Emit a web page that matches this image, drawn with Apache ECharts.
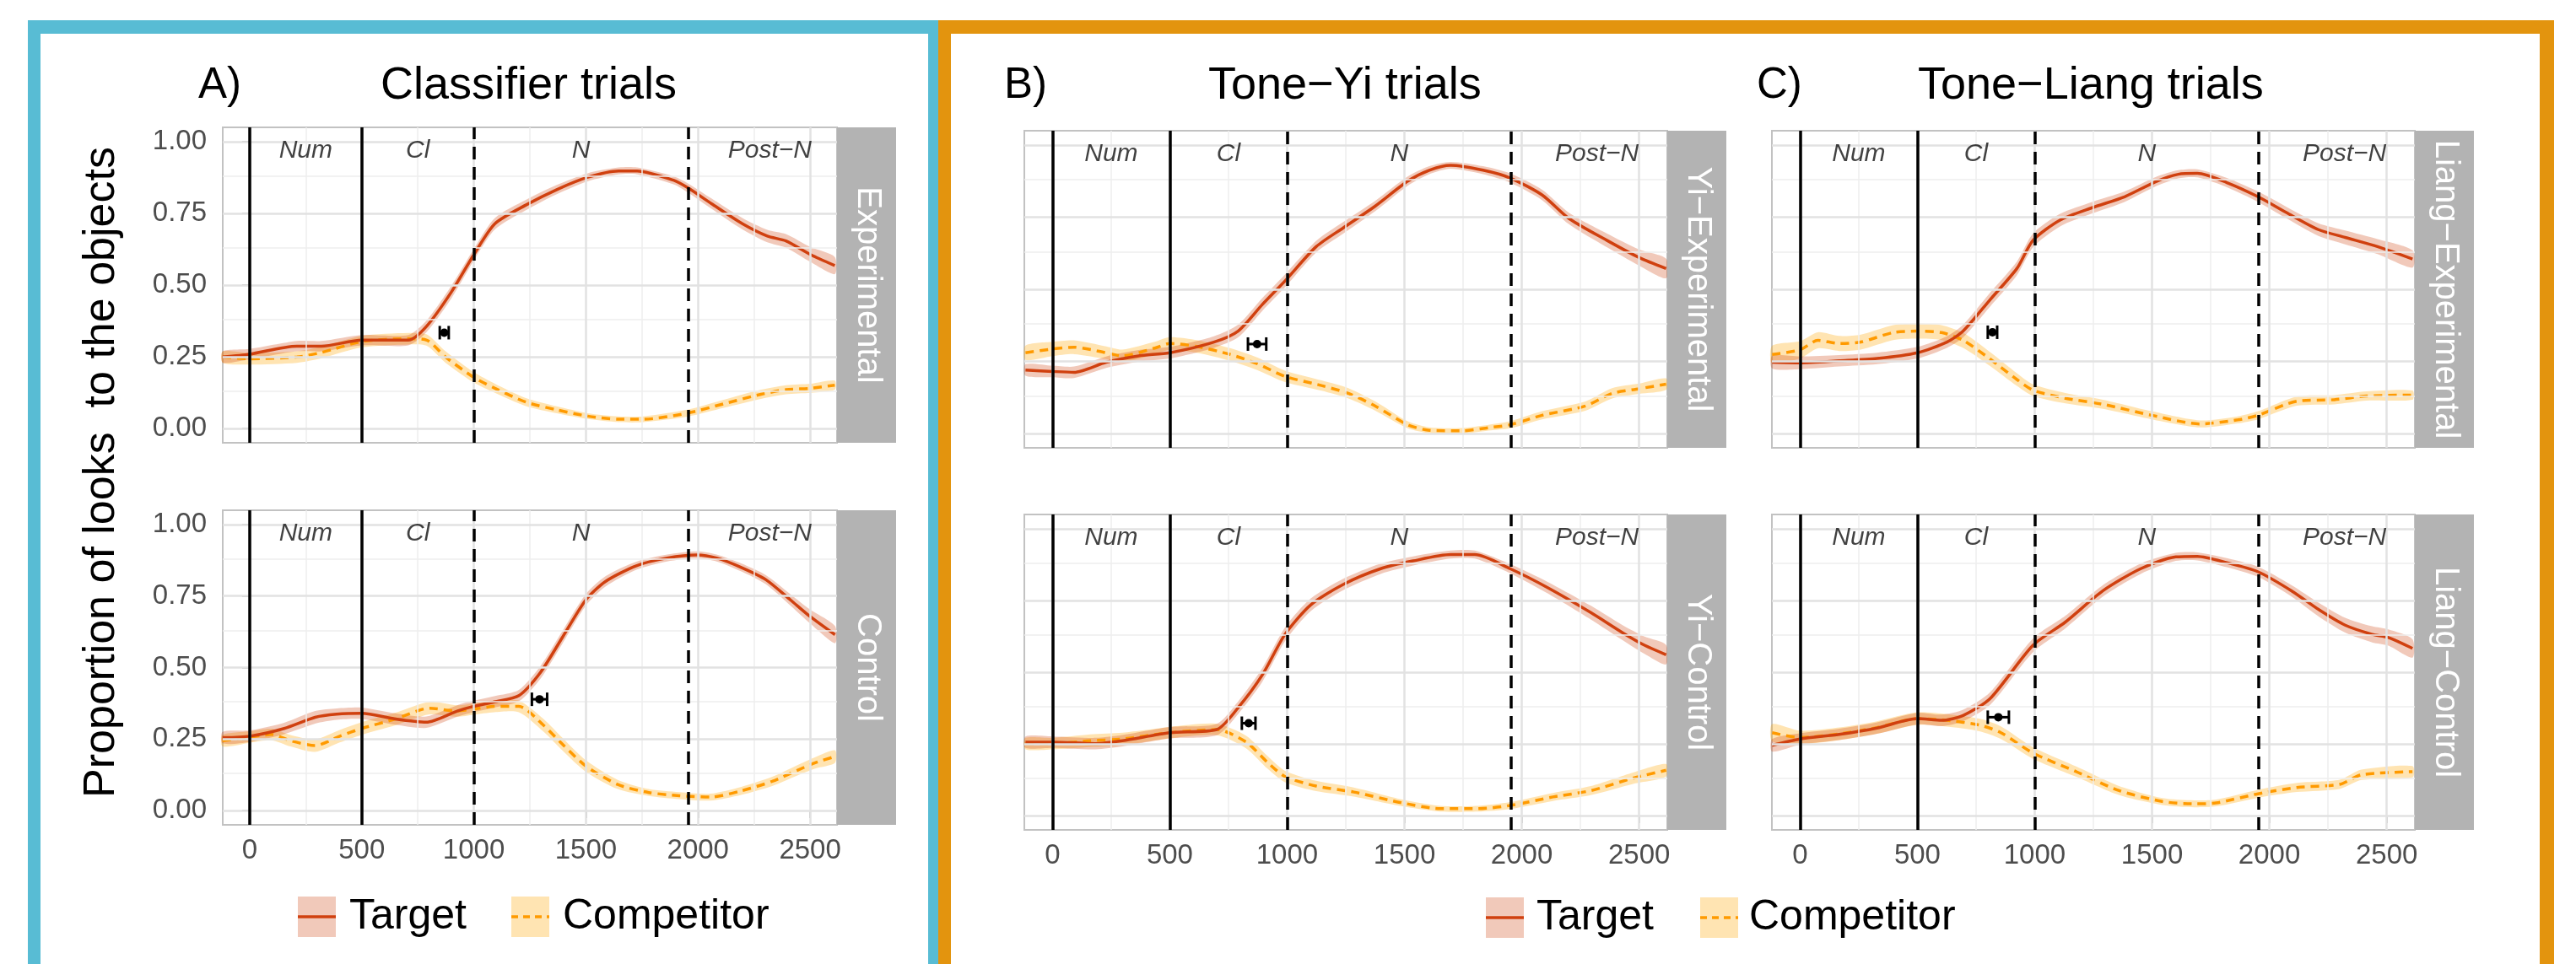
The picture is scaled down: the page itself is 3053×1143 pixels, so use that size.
<!DOCTYPE html>
<html>
<head>
<meta charset="utf-8">
<script src="https://cdn.jsdelivr.net/npm/echarts@6/dist/echarts.min.js"></script>
<style>
html, body { margin: 0; padding: 0; background: #fff; }
#chart { width: 3053px; height: 1143px; }
</style>
</head>
<body>
<div id="chart"></div>
<script>
// axis breaks and region markers
const xTicks = [0, 500, 1000, 1500, 2000, 2500];
const xMinor = [250, 750, 1250, 1750, 2250];
const yTicks = [0, 0.25, 0.5, 0.75, 1];
const yMinor = [0.125, 0.375, 0.625, 0.875];
const solidLines = [0, 500];
const dashedLines = [1000, 1955];
const regionNames = ['Num', 'Cl', 'N', 'Post\u2212N'];
const regionX = [250, 750, 1478, 2320];
const regionY = 0.968;
const stripNames = ['Experimental', 'Control', 'Yi\u2212Experimental', 'Yi\u2212Control', 'Liang\u2212Experimental', 'Liang\u2212Control'];
const seriesNames = ['Target', 'Competitor'];

// [time, proportion, se]
const targetA1 = [[-120,.249,.02],[0,.259,.018],[210,.287,.018],[320,.287,.018],[500,.308,.018],[708,.308,.018],[790,.357,.02],[900,.476,.022],[1000,.606,.02],[1094,.714,.02],[1232,.779,.018],[1370,.833,.016],[1508,.876,.014],[1646,.898,.012],[1728,.898,.012],[1893,.865,.014],[1957,.838,.016],[2060,.784,.018],[2198,.714,.02],[2309,.671,.022],[2392,.654,.024],[2503,.606,.026],[2610,.568,.03]];
const compA1 = [[-120,.249,.02],[0,.243,.02],[211,.249,.02],[321,.265,.02],[500,.303,.02],[708,.313,.02],[790,.308,.02],[874,.249,.02],[1000,.178,.018],[1094,.140,.016],[1232,.092,.014],[1370,.065,.012],[1508,.043,.01],[1646,.032,.01],[1756,.032,.01],[1957,.054,.012],[2115,.086,.014],[2281,.119,.016],[2392,.135,.016],[2503,.140,.016],[2610,.151,.016]];
const targetA2 = [[-121,.255,.02],[0,.26,.02],[154,.287,.02],[292,.326,.022],[388,.337,.02],[500,.34,.02],[650,.32,.02],[788,.309,.02],[926,.348,.02],[997,.364,.02],[1091,.38,.02],[1201,.402,.02],[1298,.484,.022],[1394,.604,.022],[1499,.736,.02],[1587,.801,.018],[1725,.856,.014],[1862,.883,.012],[1995,.894,.012],[2083,.883,.012],[2193,.85,.014],[2303,.807,.016],[2413,.736,.02],[2496,.681,.024],[2611,.615,.03]];
const compA2 = [[-121,.244,.02],[0,.257,.02],[99,.266,.02],[182,.244,.02],[292,.227,.022],[402,.26,.022],[500,.287,.022],[650,.32,.022],[802,.358,.022],[926,.348,.02],[997,.355,.02],[1091,.364,.02],[1201,.364,.02],[1311,.298,.022],[1394,.233,.022],[1499,.156,.02],[1642,.091,.016],[1780,.063,.012],[1917,.052,.012],[2055,.047,.012],[2193,.069,.014],[2331,.102,.016],[2441,.14,.018],[2523,.167,.02],[2611,.189,.022]];
const targetB1 = [[-115,.22,.02],[0,.215,.02],[92,.212,.02],[229,.247,.02],[367,.269,.02],[500,.28,.02],[688,.317,.02],[791,.355,.022],[894,.447,.022],[991,.529,.022],[1124,.648,.02],[1239,.713,.02],[1376,.789,.018],[1514,.875,.016],[1606,.913,.014],[1697,.93,.012],[1835,.913,.014],[1950,.886,.016],[2087,.827,.018],[2202,.745,.02],[2362,.67,.024],[2500,.61,.028],[2615,.572,.034]];
const compB1 = [[-115,.28,.025],[0,.293,.025],[92,.299,.024],[229,.28,.022],[298,.269,.022],[436,.296,.022],[500,.312,.022],[619,.301,.022],[757,.274,.022],[872,.242,.022],[991,.198,.02],[1147,.166,.018],[1261,.139,.018],[1376,.095,.016],[1514,.03,.012],[1606,.011,.01],[1743,.009,.01],[1858,.02,.01],[1950,.03,.012],[2087,.063,.014],[2271,.095,.016],[2385,.139,.018],[2500,.155,.018],[2615,.171,.02]];
const targetB2 = [[-115,.256,.02],[0,.256,.02],[183,.251,.02],[298,.261,.02],[500,.289,.02],[700,.3,.02],[791,.376,.022],[894,.49,.024],[991,.632,.024],[1101,.735,.022],[1239,.806,.02],[1399,.861,.018],[1537,.888,.016],[1697,.91,.014],[1800,.91,.014],[1950,.861,.016],[2110,.795,.02],[2294,.708,.024],[2431,.637,.026],[2523,.594,.03],[2615,.561,.034]];
const compB2 = [[-115,.251,.02],[0,.251,.02],[161,.261,.022],[298,.267,.022],[500,.289,.02],[700,.3,.02],[826,.256,.022],[917,.185,.022],[991,.136,.02],[1124,.103,.018],[1284,.082,.016],[1491,.044,.012],[1651,.024,.01],[1812,.024,.01],[1950,.035,.012],[2133,.065,.014],[2294,.087,.016],[2477,.131,.02],[2615,.158,.022]];
const targetC1 = [[-119,.247,.022],[0,.245,.022],[167,.252,.02],[328,.26,.02],[500,.28,.02],[626,.317,.02],[695,.355,.022],[810,.464,.024],[924,.572,.024],[993,.67,.024],[1108,.74,.022],[1245,.783,.02],[1383,.821,.018],[1521,.875,.016],[1612,.899,.014],[1693,.902,.014],[1819,.87,.016],[1952,.821,.018],[2071,.767,.02],[2209,.707,.022],[2323,.68,.024],[2461,.648,.026],[2610,.605,.03]];
const compC1 = [[-119,.274,.03],[0,.29,.03],[76,.323,.028],[167,.312,.026],[259,.317,.026],[397,.35,.026],[500,.355,.026],[603,.35,.026],[695,.323,.026],[810,.258,.024],[924,.187,.022],[993,.15,.02],[1131,.122,.018],[1291,.101,.016],[1498,.063,.014],[1704,.033,.012],[1865,.047,.012],[1952,.063,.014],[2117,.112,.016],[2277,.117,.016],[2415,.13,.016],[2610,.133,.016]];
const targetC2 = [[-119,.245,.022],[0,.267,.02],[167,.283,.02],[328,.305,.02],[500,.338,.02],[603,.332,.02],[695,.349,.02],[810,.408,.022],[993,.594,.024],[1131,.675,.022],[1291,.784,.02],[1452,.861,.018],[1601,.902,.014],[1693,.904,.014],[1819,.882,.016],[1952,.85,.018],[2094,.784,.02],[2209,.719,.024],[2323,.664,.026],[2438,.632,.028],[2507,.621,.028],[2610,.583,.032]];
const compC2 = [[-119,.289,.03],[0,.272,.024],[167,.285,.022],[328,.307,.022],[500,.338,.022],[626,.332,.022],[764,.316,.022],[856,.289,.022],[993,.218,.02],[1177,.153,.018],[1360,.087,.016],[1544,.049,.012],[1681,.041,.012],[1773,.044,.012],[1952,.076,.014],[2117,.098,.016],[2300,.109,.016],[2392,.142,.018],[2610,.153,.02]];

// divergence onset: [time, proportion, half width of the interval]
const onsetA1 = [868, .334, 20];
const onsetA2 = [1293, .389, 34];
const onsetB1 = [872, .31, 39];
const onsetB2 = [836, .322, 29];
const onsetC1 = [820, .351, 20];
const onsetC2 = [845, .343, 45];

const FONT = '"Liberation Sans", Arial, Helvetica, sans-serif';
const tgtColor = '#D0400F';
const compColor = '#FF9A00';
const tgtFill = 'rgba(205,55,0,0.27)';
const compFill = 'rgba(255,165,0,0.3)';
const blue = '#58BCD4';
const orange = '#E3940E';

const panels = [
  { grid: { left: 264, top: 151, width: 728, height: 374 }, tgt: targetA1, comp: compA1, onset: onsetA1, yLab: true, xLab: false },
  { grid: { left: 264, top: 605, width: 728, height: 373 }, tgt: targetA2, comp: compA2, onset: onsetA2, yLab: true, xLab: true },
  { grid: { left: 1214, top: 155, width: 762, height: 376 }, tgt: targetB1, comp: compB1, onset: onsetB1, yLab: false, xLab: false },
  { grid: { left: 1214, top: 610, width: 762, height: 374 }, tgt: targetB2, comp: compB2, onset: onsetB2, yLab: false, xLab: true },
  { grid: { left: 2100, top: 155, width: 762, height: 376 }, tgt: targetC1, comp: compC1, onset: onsetC1, yLab: false, xLab: false },
  { grid: { left: 2100, top: 610, width: 762, height: 374 }, tgt: targetC2, comp: compC2, onset: onsetC2, yLab: false, xLab: true }
];

const grids = [], xAxes = [], yAxes = [], series = [], graphics = [];

function ribbon(name, arr, fill, gi) {
  return {
    name: name, type: 'custom', xAxisIndex: gi, yAxisIndex: gi, z: 2, silent: true,
    data: [[arr[0][0], arr[0][1]]],
    renderItem: function (params, api) {
      const up = arr.map(p => api.coord([p[0], p[1] + p[2]]));
      const lo = arr.slice().reverse().map(p => api.coord([p[0], p[1] - p[2]]));
      return { type: 'polygon', shape: { points: up.concat(lo), smooth: 0.25 }, style: { fill: fill } };
    }
  };
}

panels.forEach(function (p, gi) {
  grids.push(Object.assign({ show: true, borderColor: '#C2C2C2', borderWidth: 2, backgroundColor: '#fff' }, p.grid));
  xAxes.push({
    type: 'value', gridIndex: gi, min: -120, max: 2620,
    axisLine: { show: false },
    axisTick: { show: p.xLab, customValues: xTicks, length: 9, lineStyle: { color: '#B3B3B3', width: 2 } },
    axisLabel: { show: p.xLab, customValues: xTicks, fontSize: 33, color: '#4D4D4D', margin: 14, fontFamily: FONT,
      formatter: v => String(v) },
    splitLine: { show: false }
  });
  yAxes.push({
    type: 'value', gridIndex: gi, min: -0.05, max: 1.05,
    axisLine: { show: false },
    axisTick: { show: p.yLab, customValues: yTicks, length: 9, lineStyle: { color: '#B3B3B3', width: 2 } },
    axisLabel: { show: p.yLab, customValues: yTicks, fontSize: 33, color: '#4D4D4D', margin: 19, fontFamily: FONT,
      formatter: v => v.toFixed(2) },
    splitLine: { show: false }
  });

  // background grid lines
  const major = { color: '#E2E2E2', width: 2.5, type: 'solid' };
  const minor = { color: '#EEEEEE', width: 1.5, type: 'solid' };
  const gridLines = []
    .concat(xMinor.map(v => ({ xAxis: v, lineStyle: minor })))
    .concat(yMinor.map(v => ({ yAxis: v, lineStyle: minor })))
    .concat(xTicks.map(v => ({ xAxis: v, lineStyle: major })))
    .concat(yTicks.map(v => ({ yAxis: v, lineStyle: major })));
  series.push({
    type: 'line', xAxisIndex: gi, yAxisIndex: gi, data: [], z: 1, silent: true,
    markLine: { silent: true, symbol: 'none', animation: false, label: { show: false }, data: gridLines }
  });

  series.push(ribbon(seriesNames[1], p.comp, compFill, gi));
  series.push(ribbon(seriesNames[0], p.tgt, tgtFill, gi));
  series.push({
    name: seriesNames[1], type: 'line', xAxisIndex: gi, yAxisIndex: gi, z: 3, silent: true,
    data: p.comp.map(d => [d[0], d[1]]), showSymbol: false, smooth: 0.25,
    lineStyle: { color: compColor, width: 3.5, type: [10, 7] }
  });
  series.push({
    name: seriesNames[0], type: 'line', xAxisIndex: gi, yAxisIndex: gi, z: 3, silent: true,
    data: p.tgt.map(d => [d[0], d[1]]), showSymbol: false, smooth: 0.25,
    lineStyle: { color: tgtColor, width: 3.5 }
  });

  // word region boundaries
  const vlines = solidLines.map(v => ({ xAxis: v, lineStyle: { color: '#000', width: 3.5, type: 'solid' } }))
    .concat(dashedLines.map(v => ({ xAxis: v, lineStyle: { color: '#000', width: 3.5, type: [15, 9] } })));
  series.push({
    type: 'line', xAxisIndex: gi, yAxisIndex: gi, data: [], z: 4, silent: true,
    markLine: { silent: true, symbol: 'none', animation: false, label: { show: false }, data: vlines }
  });

  series.push({
    type: 'scatter', xAxisIndex: gi, yAxisIndex: gi, z: 5, silent: true, symbolSize: 0,
    itemStyle: { color: 'rgba(0,0,0,0)' },
    data: regionX.map((x, k) => ({ value: [x, regionY], name: regionNames[k] })),
    label: { show: true, position: 'inside', formatter: '{b}', fontStyle: 'italic', fontSize: 30, color: '#111', fontFamily: FONT }
  });

  series.push({
    type: 'custom', xAxisIndex: gi, yAxisIndex: gi, z: 6, silent: true,
    data: [p.onset],
    renderItem: function (params, api) {
      const x = api.value(0), y = api.value(1), hw = api.value(2);
      const c = api.coord([x, y]), l = api.coord([x - hw, y]), r = api.coord([x + hw, y]);
      const st = { stroke: '#000', lineWidth: 3 };
      return { type: 'group', children: [
        { type: 'line', shape: { x1: l[0], y1: c[1], x2: r[0], y2: c[1] }, style: st },
        { type: 'line', shape: { x1: l[0], y1: c[1] - 8, x2: l[0], y2: c[1] + 8 }, style: st },
        { type: 'line', shape: { x1: r[0], y1: c[1] - 8, x2: r[0], y2: c[1] + 8 }, style: st },
        { type: 'circle', shape: { cx: c[0], cy: c[1], r: 5 }, style: { fill: '#000' } }
      ] };
    }
  });

  // facet strip
  const g = p.grid;
  graphics.push({ type: 'rect', z: 10, shape: { x: g.left + g.width, y: g.top, width: 70, height: g.height }, style: { fill: '#B3B3B3' } });
  graphics.push({ type: 'text', z: 11, x: g.left + g.width + 36, y: g.top + g.height / 2, rotation: -Math.PI / 2,
    style: { text: stripNames[gi], x: 0, y: 0, fill: '#fff', font: '40px ' + FONT, textAlign: 'center', textVerticalAlign: 'middle', align: 'center', verticalAlign: 'middle' } });
});

function txt(s, x, y, size, extra) {
  return Object.assign({ type: 'text', z: 12, x: x, y: y,
    style: { text: s, x: 0, y: 0, fill: '#000', font: size + 'px ' + FONT, textAlign: 'left', textVerticalAlign: 'middle', align: 'left', verticalAlign: 'middle' } }, extra || {});
}

// titles
graphics.push(txt('A)', 235, 102, 51));
graphics.push(txt('Classifier trials', 451, 102, 54));
graphics.push(txt('B)', 1190, 102, 51));
graphics.push(txt('Tone\u2212Yi trials', 1432, 102, 54));
graphics.push(txt('C)', 2082, 102, 51));
graphics.push(txt('Tone\u2212Liang trials', 2273, 102, 54));

// shared y label
graphics.push({ type: 'text', z: 12, x: 121, y: 560, rotation: Math.PI / 2,
  style: { text: 'Proportion of looks  to the objects', x: 0, y: 0, fill: '#000', font: '52px ' + FONT,
    textAlign: 'center', textVerticalAlign: 'middle', align: 'center', verticalAlign: 'middle' } });

// legends
function legendKeys(kx1, kx2, tx1, tx2, cy) {
  graphics.push({ type: 'rect', z: 12, shape: { x: kx1, y: cy - 24, width: 45, height: 48 }, style: { fill: tgtFill } });
  graphics.push({ type: 'line', z: 13, shape: { x1: kx1, y1: cy, x2: kx1 + 45, y2: cy }, style: { stroke: tgtColor, lineWidth: 3.5 } });
  graphics.push(txt(seriesNames[0], tx1, cy, 50));
  graphics.push({ type: 'rect', z: 12, shape: { x: kx2, y: cy - 24, width: 45, height: 48 }, style: { fill: compFill } });
  graphics.push({ type: 'line', z: 13, shape: { x1: kx2, y1: cy, x2: kx2 + 45, y2: cy }, style: { stroke: compColor, lineWidth: 3.5, lineDash: [8, 6] } });
  graphics.push(txt(seriesNames[1], tx2, cy, 50));
}
legendKeys(353, 606, 414, 667, 1087);
legendKeys(1761, 2015, 1821, 2073, 1088);

// panel frames
graphics.push({ type: 'rect', z: 20, shape: { x: 33, y: 24, width: 1079, height: 16 }, style: { fill: blue } });
graphics.push({ type: 'rect', z: 20, shape: { x: 33, y: 24, width: 15, height: 1130 }, style: { fill: blue } });
graphics.push({ type: 'rect', z: 20, shape: { x: 1100, y: 24, width: 12, height: 1130 }, style: { fill: blue } });
graphics.push({ type: 'rect', z: 20, shape: { x: 1112, y: 24, width: 1915, height: 16 }, style: { fill: orange } });
graphics.push({ type: 'rect', z: 20, shape: { x: 1112, y: 24, width: 15, height: 1130 }, style: { fill: orange } });
graphics.push({ type: 'rect', z: 20, shape: { x: 3010, y: 24, width: 17, height: 1130 }, style: { fill: orange } });

const chart = echarts.init(document.getElementById('chart'), null, { renderer: 'canvas' });
chart.setOption({
  animation: false,
  backgroundColor: '#fff',
  textStyle: { fontFamily: FONT },
  grid: grids,
  xAxis: xAxes,
  yAxis: yAxes,
  series: series,
  graphic: { elements: graphics }
});
</script>
</body>
</html>
